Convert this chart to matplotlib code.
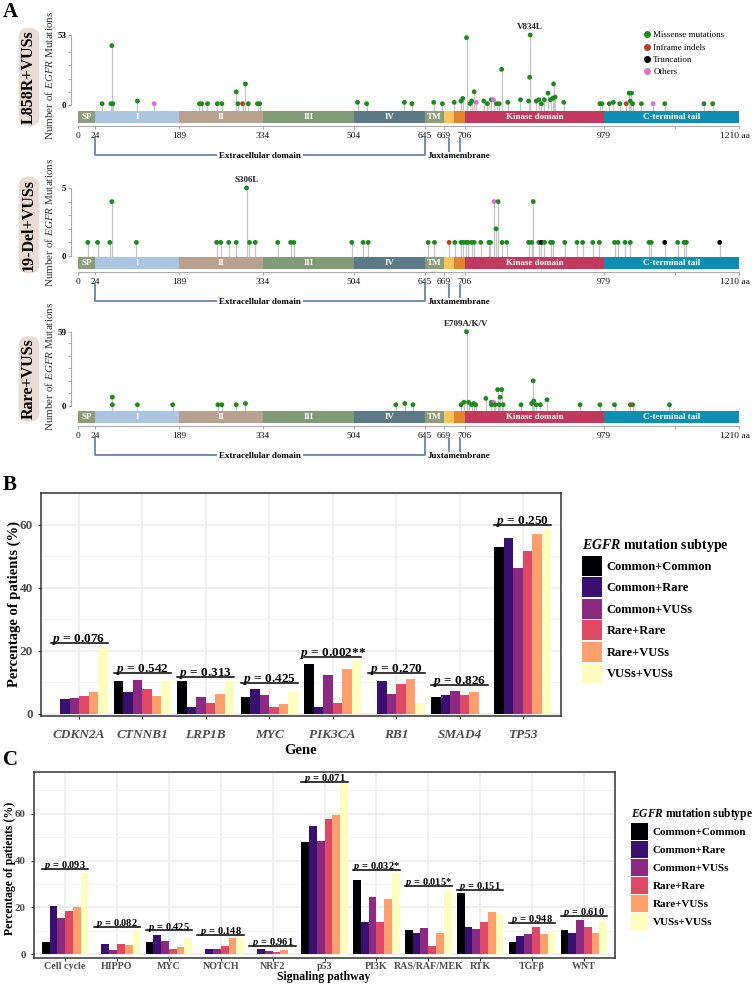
import numpy as np
import matplotlib
matplotlib.use('Agg')
import matplotlib.pyplot as plt
from matplotlib.patches import Patch
from matplotlib.lines import Line2D

plt.rcParams['font.family'] = ['Liberation Serif', 'DejaVu Serif']
plt.rcParams['mathtext.fontset'] = 'custom'
plt.rcParams['mathtext.rm'] = 'Liberation Serif'
plt.rcParams['mathtext.it'] = 'Liberation Serif:italic'
plt.rcParams['mathtext.bf'] = 'Liberation Serif:italic:bold'

W, H = 752, 991

# ---------------- panel A: EGFR lollipops ----------------
domain_start = [0, 24, 189, 334, 504, 645, 669, 687, 706, 979]
domain_end = [24, 189, 334, 504, 645, 669, 687, 706, 979, 1210]
domain_name = ['SP', 'I', 'II', 'III', 'IV', 'TM', '', '', 'Kinase domain', 'C-terminal tail']
domain_color = ['#8C9C78', '#A9C5E0', '#B9A190', '#819B77', '#5C7988', '#8C9C78',
                '#FFC55C', '#E0852F', '#C1395F', '#0E8FB2']
aa_ticks = [0, 24, 189, 334, 504, 645, 669, 706, 979]

# (position aa, number of mutations, type)  M missense, I inframe indel, T truncation, O others
l858r_muts = [(38, 1, 'M'), (55, 1, 'M'), (57, 45, 'M'), (59, 1, 'M'), (107, 3, 'M'), (140, 1, 'O'),
              (224, 1, 'M'), (228, 1, 'M'), (238, 1, 'M'), (255, 1, 'M'), (263, 1, 'M'), (288, 10, 'M'),
              (291, 1, 'M'), (299, 1, 'I'), (304, 16, 'M'), (309, 1, 'M'), (325, 1, 'M'), (329, 1, 'M'),
              (511, 2, 'M'), (529, 1, 'M'), (604, 2, 'M'), (619, 1, 'M'), (656, 2, 'M'), (667, 1, 'M'),
              (687, 2, 'M'), (699, 3, 'M'), (702, 5, 'M'), (709, 51, 'M'), (716, 1, 'M'), (719, 3, 'M'),
              (724, 10, 'M'), (728, 2, 'O'), (743, 3, 'M'), (750, 1, 'M'), (758, 4, 'M'), (762, 4, 'O'),
              (768, 1, 'M'), (773, 1, 'M'), (778, 27, 'M'), (790, 2, 'M'), (815, 4, 'M'), (831, 3, 'M'),
              (834, 53, 'M'), (833, 21, 'M'), (846, 3, 'M'), (851, 4, 'M'), (856, 1, 'M'), (862, 4, 'M'),
              (869, 9, 'M'), (874, 4, 'M'), (878, 5, 'M'), (880, 16, 'M'), (883, 6, 'M'), (900, 2, 'M'),
              (971, 1, 'M'), (975, 1, 'M'), (988, 1, 'M'), (995, 2, 'M'), (1006, 1, 'M'), (1017, 1, 'I'),
              (1022, 9, 'M'), (1026, 9, 'M'), (1024, 3, 'M'), (1028, 1, 'M'), (1043, 1, 'M'),
              (1063, 1, 'O'), (1083, 1, 'M'), (1150, 1, 'M'), (1165, 1, 'M')]
del19_muts = [(14, 1, 'M'), (29, 1, 'M'), (53, 1, 'M'), (57, 4, 'M'), (105, 1, 'M'), (254, 1, 'M'),
              (261, 1, 'M'), (275, 1, 'M'), (288, 1, 'M'), (306, 5, 'M'), (311, 1, 'M'), (321, 1, 'M'),
              (362, 1, 'M'), (386, 1, 'M'), (392, 1, 'M'), (500, 1, 'M'), (522, 1, 'M'), (532, 1, 'M'),
              (649, 1, 'M'), (657, 1, 'M'), (678, 1, 'I'), (688, 1, 'M'), (699, 1, 'M'), (703, 1, 'M'),
              (708, 1, 'M'), (712, 1, 'M'), (719, 1, 'M'), (724, 1, 'M'), (737, 1, 'M'), (753, 1, 'M'),
              (756, 1, 'M'), (763, 4, 'O'), (767, 2, 'M'), (771, 4, 'M'), (779, 1, 'M'), (788, 1, 'M'),
              (831, 1, 'M'), (837, 1, 'M'), (840, 4, 'M'), (851, 1, 'M'), (856, 1, 'T'), (862, 1, 'M'),
              (874, 1, 'M'), (878, 1, 'M'), (902, 1, 'M'), (926, 1, 'M'), (937, 1, 'M'), (957, 1, 'M'),
              (970, 1, 'M'), (997, 1, 'M'), (1003, 1, 'M'), (1015, 1, 'M'), (1024, 1, 'M'), (1056, 1, 'M'),
              (1060, 1, 'M'), (1083, 1, 'T'), (1105, 1, 'M'), (1116, 1, 'M'), (1120, 1, 'M'), (1177, 1, 'T')]
rare_muts = [(58, 7, 'M'), (58, 1, 'M'), (107, 1, 'M'), (176, 1, 'M'), (256, 1, 'M'), (263, 1, 'M'),
             (288, 1, 'M'), (304, 2, 'M'), (587, 1, 'M'), (605, 2, 'M'), (621, 1, 'M'), (699, 1, 'M'),
             (704, 3, 'M'), (709, 59, 'M'), (713, 3, 'M'), (719, 1, 'M'), (723, 2, 'M'), (727, 1, 'M'),
             (747, 6, 'M'), (758, 3, 'M'), (762, 3, 'O'), (758, 1, 'M'), (765, 1, 'M'), (770, 13, 'M'),
             (773, 1, 'M'), (775, 7, 'M'), (778, 13, 'M'), (781, 1, 'M'), (816, 1, 'M'), (837, 2, 'M'),
             (840, 20, 'M'), (841, 4, 'M'), (846, 1, 'M'), (854, 1, 'M'), (867, 5, 'M'), (932, 1, 'M'),
             (971, 1, 'M'), (997, 1, 'M'), (1024, 1, 'I'), (1028, 1, 'M'), (1091, 1, 'M')]

mut_types = ['M', 'I', 'T', 'O']
mut_labels = ['Missense mutations', 'Inframe indels', 'Truncation', 'Others']
mut_colors = {'M': '#1C8A1C', 'I': '#B3441C', 'T': '#000000', 'O': '#DC6FD5'}

tracks = [('L858R+VUSs', l858r_muts, 53, [0, 10, 20, 30, 40, 53], 'V834L', 834),
          ('19-Del+VUSs', del19_muts, 5, [0, 1, 2, 3, 4, 5], 'S306L', 306),
          ('Rare+VUSs', rare_muts, 59, [0, 10, 20, 30, 40, 50, 59], 'E709A/K/V', 709)]

# ---------------- panel B / C: bars ----------------
subtypes = ['Common+Common', 'Common+Rare', 'Common+VUSs', 'Rare+Rare', 'Rare+VUSs', 'VUSs+VUSs']
sub_colors = ['#000004', '#3B0F70', '#8C2981', '#DE4968', '#FE9F6D', '#FCFDBF']

genes = ['CDKN2A', 'CTNNB1', 'LRP1B', 'MYC', 'PIK3CA', 'RB1', 'SMAD4', 'TP53']
gene_cc = [0, 10.5, 10.5, 5.3, 15.9, 0, 5.3, 52.9]
gene_cr = [4.6, 6.9, 2.3, 8.0, 2.3, 10.3, 5.8, 55.7]
gene_cv = [5.1, 10.8, 5.2, 5.9, 12.2, 6.2, 7.2, 46.3]
gene_rr = [5.7, 8.0, 3.4, 2.3, 3.4, 9.3, 5.8, 51.7]
gene_rv = [7.0, 5.5, 6.4, 3.1, 14.3, 11.0, 7.0, 57.1]
gene_vv = [20.8, 10.4, 10.4, 7.0, 17.2, 3.4, 0, 58.6]
gene_p = ['0.076', '0.542', '0.313', '0.425', '0.002**', '0.270', '0.826', '0.250']
gene_p_y = [22.6, 12.9, 11.7, 9.7, 18.0, 12.9, 9.1, 59.9]

pathways = ['Cell cycle', 'HIPPO', 'MYC', 'NOTCH', 'NRF2', 'p53', 'PI3K', 'RAS/RAF/MEK', 'RTK', 'TGFβ', 'WNT']
path_cc = [5.1, 0, 5.1, 0, 0, 48.0, 31.6, 10.4, 26.3, 5.1, 10.4]
path_cr = [20.6, 4.3, 8.0, 2.3, 2.3, 54.7, 13.5, 9.0, 11.4, 7.8, 9.0]
path_cv = [15.6, 1.6, 5.7, 2.3, 1.4, 48.3, 24.2, 11.1, 10.8, 8.5, 14.5]
path_rr = [18.3, 4.5, 2.3, 3.4, 1.0, 57.6, 13.8, 3.3, 13.6, 11.4, 11.4]
path_rv = [20.3, 3.7, 3.1, 7.0, 1.6, 59.4, 23.5, 9.2, 17.9, 8.5, 9.2]
path_vv = [34.5, 10.4, 6.8, 7.0, 0, 72.9, 34.5, 27.4, 17.2, 9.9, 13.6]
path_p = ['0.093', '0.082', '0.425', '0.148', '0.961', '0.071', '0.032*', '0.015*', '0.151', '0.948', '0.610']
path_p_y = [36.4, 11.5, 10.1, 8.2, 3.3, 73.5, 36.0, 29.3, 27.4, 13.2, 16.3]


def px_box(l, t, r, b):
    return [l / W, 1 - b / H, (r - l) / W, (b - t) / H]


# stretch of the protein axis: each domain gets its own width
bp_aa = np.array([-1000, 0, 24, 189, 334, 504, 645, 669, 706, 979, 1210, 3000])
bp_px = np.array([-468.3, 77.7, 95, 179.3, 262.7, 354, 425, 444, 465, 604, 739, 1716])
X0, X1 = 77.7, 739


def fwd(a):
    return np.interp(a, bp_aa, bp_px)


def inv(p):
    return np.interp(p, bp_px, bp_aa)


fig = plt.figure(figsize=(W / 100, H / 100), dpi=100)

track_layout = [(105, 35, 111), (256, 188, 257), (406, 331.7, 411)]
name_y = [77, 225, 379]
ylab_y = [75, 222, 366]
bcol = '#5C79A6'
fa = 6.5  # small text in panel A

for k, (name, muts, vmax, yt, hot, hot_pos) in enumerate(tracks):
    y0, ytop, bartop = track_layout[k]
    ax = fig.add_axes(px_box(X0, ytop, X1, bartop))
    ax.set_xscale('function', functions=(fwd, inv))
    ax.set_xlim(0, 1210)
    per = (y0 - ytop) / vmax
    lo = -(bartop - y0) / per
    ax.set_ylim(lo, vmax)
    ax.patch.set_alpha(0)
    pos = [m[0] for m in muts]
    cnt = [m[1] for m in muts]
    col = [mut_colors[m[2]] for m in muts]
    ax.vlines(pos, lo, cnt, color='#C6C6C6', lw=0.9, zorder=1)
    ax.scatter(pos, cnt, s=12, c=col, zorder=3, clip_on=False, linewidths=0)
    ax.annotate(hot, (hot_pos, vmax), xytext=(0, 3), textcoords='offset points',
                ha='center', va='bottom', fontsize=fa, fontweight='bold', color='#222222')
    for s in ['top', 'right', 'bottom']:
        ax.spines[s].set_visible(False)
    ax.spines['left'].set_bounds(0, vmax)
    ax.spines['left'].set_position(('outward', 4.5))
    ax.spines['left'].set_color('#AAAAAA')
    ax.spines['left'].set_linewidth(0.8)
    ax.set_xticks([])
    ax.set_yticks(yt)
    ax.set_yticklabels([str(v) if v in (0, vmax) else '' for v in yt], fontweight='bold')
    ax.tick_params(axis='y', length=2.5, width=0.7, color='#AAAAAA', labelsize=6.5, pad=1)

    if k == 0:
        handles = [Line2D([], [], marker='o', ls='', ms=4, color=mut_colors[t]) for t in mut_types]
        fig.legend(handles, mut_labels, loc='upper left', bbox_to_anchor=(645 / W, 1 - 31 / H),
                   frameon=False, fontsize=fa, handlelength=0.5, handletextpad=0.4,
                   labelspacing=0.45, borderpad=0, borderaxespad=0)

    # domain bar and brackets
    axd = fig.add_axes(px_box(X0, bartop, X1, bartop + 50))
    axd.set_xscale('function', functions=(fwd, inv))
    axd.set_xlim(0, 1210)
    axd.set_ylim(50, 0)
    axd.patch.set_alpha(0)
    axd.bar(domain_start, 12.3, width=np.subtract(domain_end, domain_start), bottom=0,
            align='edge', color=domain_color, linewidth=0)
    for s, e, n in zip(domain_start, domain_end, domain_name):
        axd.text(inv((fwd(s) + fwd(e)) / 2), 6.3, n, ha='center', va='center', color='white',
                 fontsize=fa, fontweight='bold')
    for s in ['top', 'right', 'left']:
        axd.spines[s].set_visible(False)
    axd.spines['bottom'].set_position(('data', 15))
    axd.spines['bottom'].set_color('#AAAAAA')
    axd.spines['bottom'].set_linewidth(0.8)
    axd.set_yticks([])
    axd.set_xticks(aa_ticks + [1100, 1210])
    axd.set_xticklabels([str(v) for v in aa_ticks] + ['', ''])
    axd.tick_params(axis='x', length=2.5, width=0.7, color='#AAAAAA', labelsize=6.8, pad=1.5,
                    labelcolor='#111111')
    axd.annotate('1210 aa', (1210, 15), xytext=(-3, -4.3), textcoords='offset points',
                 ha='center', va='top', fontsize=6.8, color='#111111')
    axd.plot([24, 24, 645, 645], [26, 44, 44, 26], color=bcol, lw=1.2, clip_on=False)
    mid = inv((fwd(24) + fwd(645)) / 2)
    axd.text(mid, 44.5, 'Extracellular domain', ha='center', va='center', fontsize=fa,
             fontweight='bold', bbox=dict(fc='white', ec='none', pad=1.5))
    jm_mid = [(domain_start[6] + domain_end[6]) / 2, (domain_start[7] + domain_end[7]) / 2]
    axd.vlines(jm_mid, 27, 41, color=bcol, lw=1.2)
    axd.annotate('Juxtamembrane', (645, 45), xytext=(1.5, 0), textcoords='offset points',
                 ha='left', va='center', fontsize=fa, fontweight='bold')

    fig.text(29 / W, 1 - name_y[k] / H, name, rotation=90, ha='center', va='center',
             fontsize=11.5, fontweight='bold',
             bbox=dict(boxstyle='round,pad=0.15,rounding_size=0.6', fc='#E8DCD4', ec='none'))
    fig.text(49 / W, 1 - ylab_y[k] / H, r'Number of $\mathit{EGFR}$ Mutations', rotation=90,
             ha='center', va='center', fontsize=8, color='#333333')


def bar_panel(box, cats, series, pvals, p_y, ylim, fs, pfs, italic):
    ax = fig.add_axes(px_box(*box))
    x = np.arange(1, len(cats) + 1)
    for i, (vals, c) in enumerate(zip(series, sub_colors)):
        ax.bar(x + (i - 2.5) * 0.15, vals, width=0.15, color=c, linewidth=0, zorder=2)
    for xi, pv, py in zip(x, pvals, p_y):
        ax.plot([xi - 0.45, xi + 0.45], [py, py], color='black', lw=1.1, zorder=3)
        ax.annotate(r'$\mathbf{p}$ = ' + pv, (xi, py), xytext=(0, 0.6), textcoords='offset points',
                    ha='center', va='baseline', fontsize=pfs, fontweight='bold', zorder=3)
    ax.set_xlim(0.4, len(cats) + 0.6)
    ax.set_ylim(*ylim)
    ax.set_yticks([0, 20, 40, 60])
    ax.set_yticks([10, 30, 50, 70], minor=True)
    ax.set_xticks(x)
    ax.set_xticklabels(cats, fontweight='bold', fontstyle='italic' if italic else 'normal')
    for lab in ax.get_yticklabels():
        lab.set_fontweight('bold')
    ax.set_axisbelow(True)
    ax.grid(which='major', color='#EBEBEB', lw=1.1)
    ax.grid(which='minor', axis='y', color='#F2F2F2', lw=0.6)
    ax.tick_params(which='minor', length=0)
    ax.tick_params(which='major', length=2.5, width=0.8, color='#333333', labelcolor='#4D4D4D',
                   labelsize=fs)
    for s in ax.spines.values():
        s.set_color('#333333')
        s.set_linewidth(1.1)
    return ax


axb = bar_panel((41, 493, 561, 716), genes, [gene_cc, gene_cr, gene_cv, gene_rr, gene_rv, gene_vv],
                gene_p, gene_p_y, (-0.7, 62.9), 9.5, 9.5, True)
axb.tick_params(axis='x', pad=6.5)
fig.text(301 / W, 1 - 750 / H, 'Gene', ha='center', va='center', fontsize=10.5, fontweight='bold')
fig.text(14 / W, 1 - 604 / H, 'Percentage of patients (%)', rotation=90, ha='center', va='center',
         fontsize=10.5, fontweight='bold')

axc = bar_panel((34, 772, 615, 958), pathways, [path_cc, path_cr, path_cv, path_rr, path_rv, path_vv],
                path_p, path_p_y, (-1.7, 77.9), 7.8, 7.5, False)
axc.tick_params(axis='x', labelsize=7.2, pad=0.5)
fig.text(324 / W, 1 - 977 / H, 'Signaling pathway', ha='center', va='center', fontsize=8.5,
         fontweight='bold')
fig.text(10 / W, 1 - 868 / H, 'Percentage of patients (%)', rotation=90, ha='center', va='center',
         fontsize=8.5, fontweight='bold')

patches = [Patch(facecolor=c, edgecolor='none') for c in sub_colors]
fig.legend(patches, subtypes, loc='upper left', bbox_to_anchor=(579 / W, 1 - 535 / H), frameon=False,
           prop={'weight': 'bold', 'size': 9}, title=r'$\mathbf{EGFR}$ mutation subtype',
           title_fontproperties={'weight': 'bold', 'size': 10}, alignment='left',
           handlelength=1.6, handleheight=2.08, labelspacing=0.12, handletextpad=0.4,
           borderpad=0.2, borderaxespad=0)
fig.legend(patches, subtypes, loc='upper left', bbox_to_anchor=(629 / W, 1 - 804 / H), frameon=False,
           prop={'weight': 'bold', 'size': 8}, title=r'$\mathbf{EGFR}$ mutation subtype',
           title_fontproperties={'weight': 'bold', 'size': 8.3}, alignment='left',
           handlelength=1.53, handleheight=1.98, labelspacing=0.09, handletextpad=0.4,
           borderpad=0.2, borderaxespad=0)

for letter, ly in [('A', 12), ('B', 485), ('C', 760)]:
    fig.text(3 / W, 1 - ly / H, letter, ha='left', va='center', fontsize=15, fontweight='bold')

fig.savefig('out.png', dpi=100)
